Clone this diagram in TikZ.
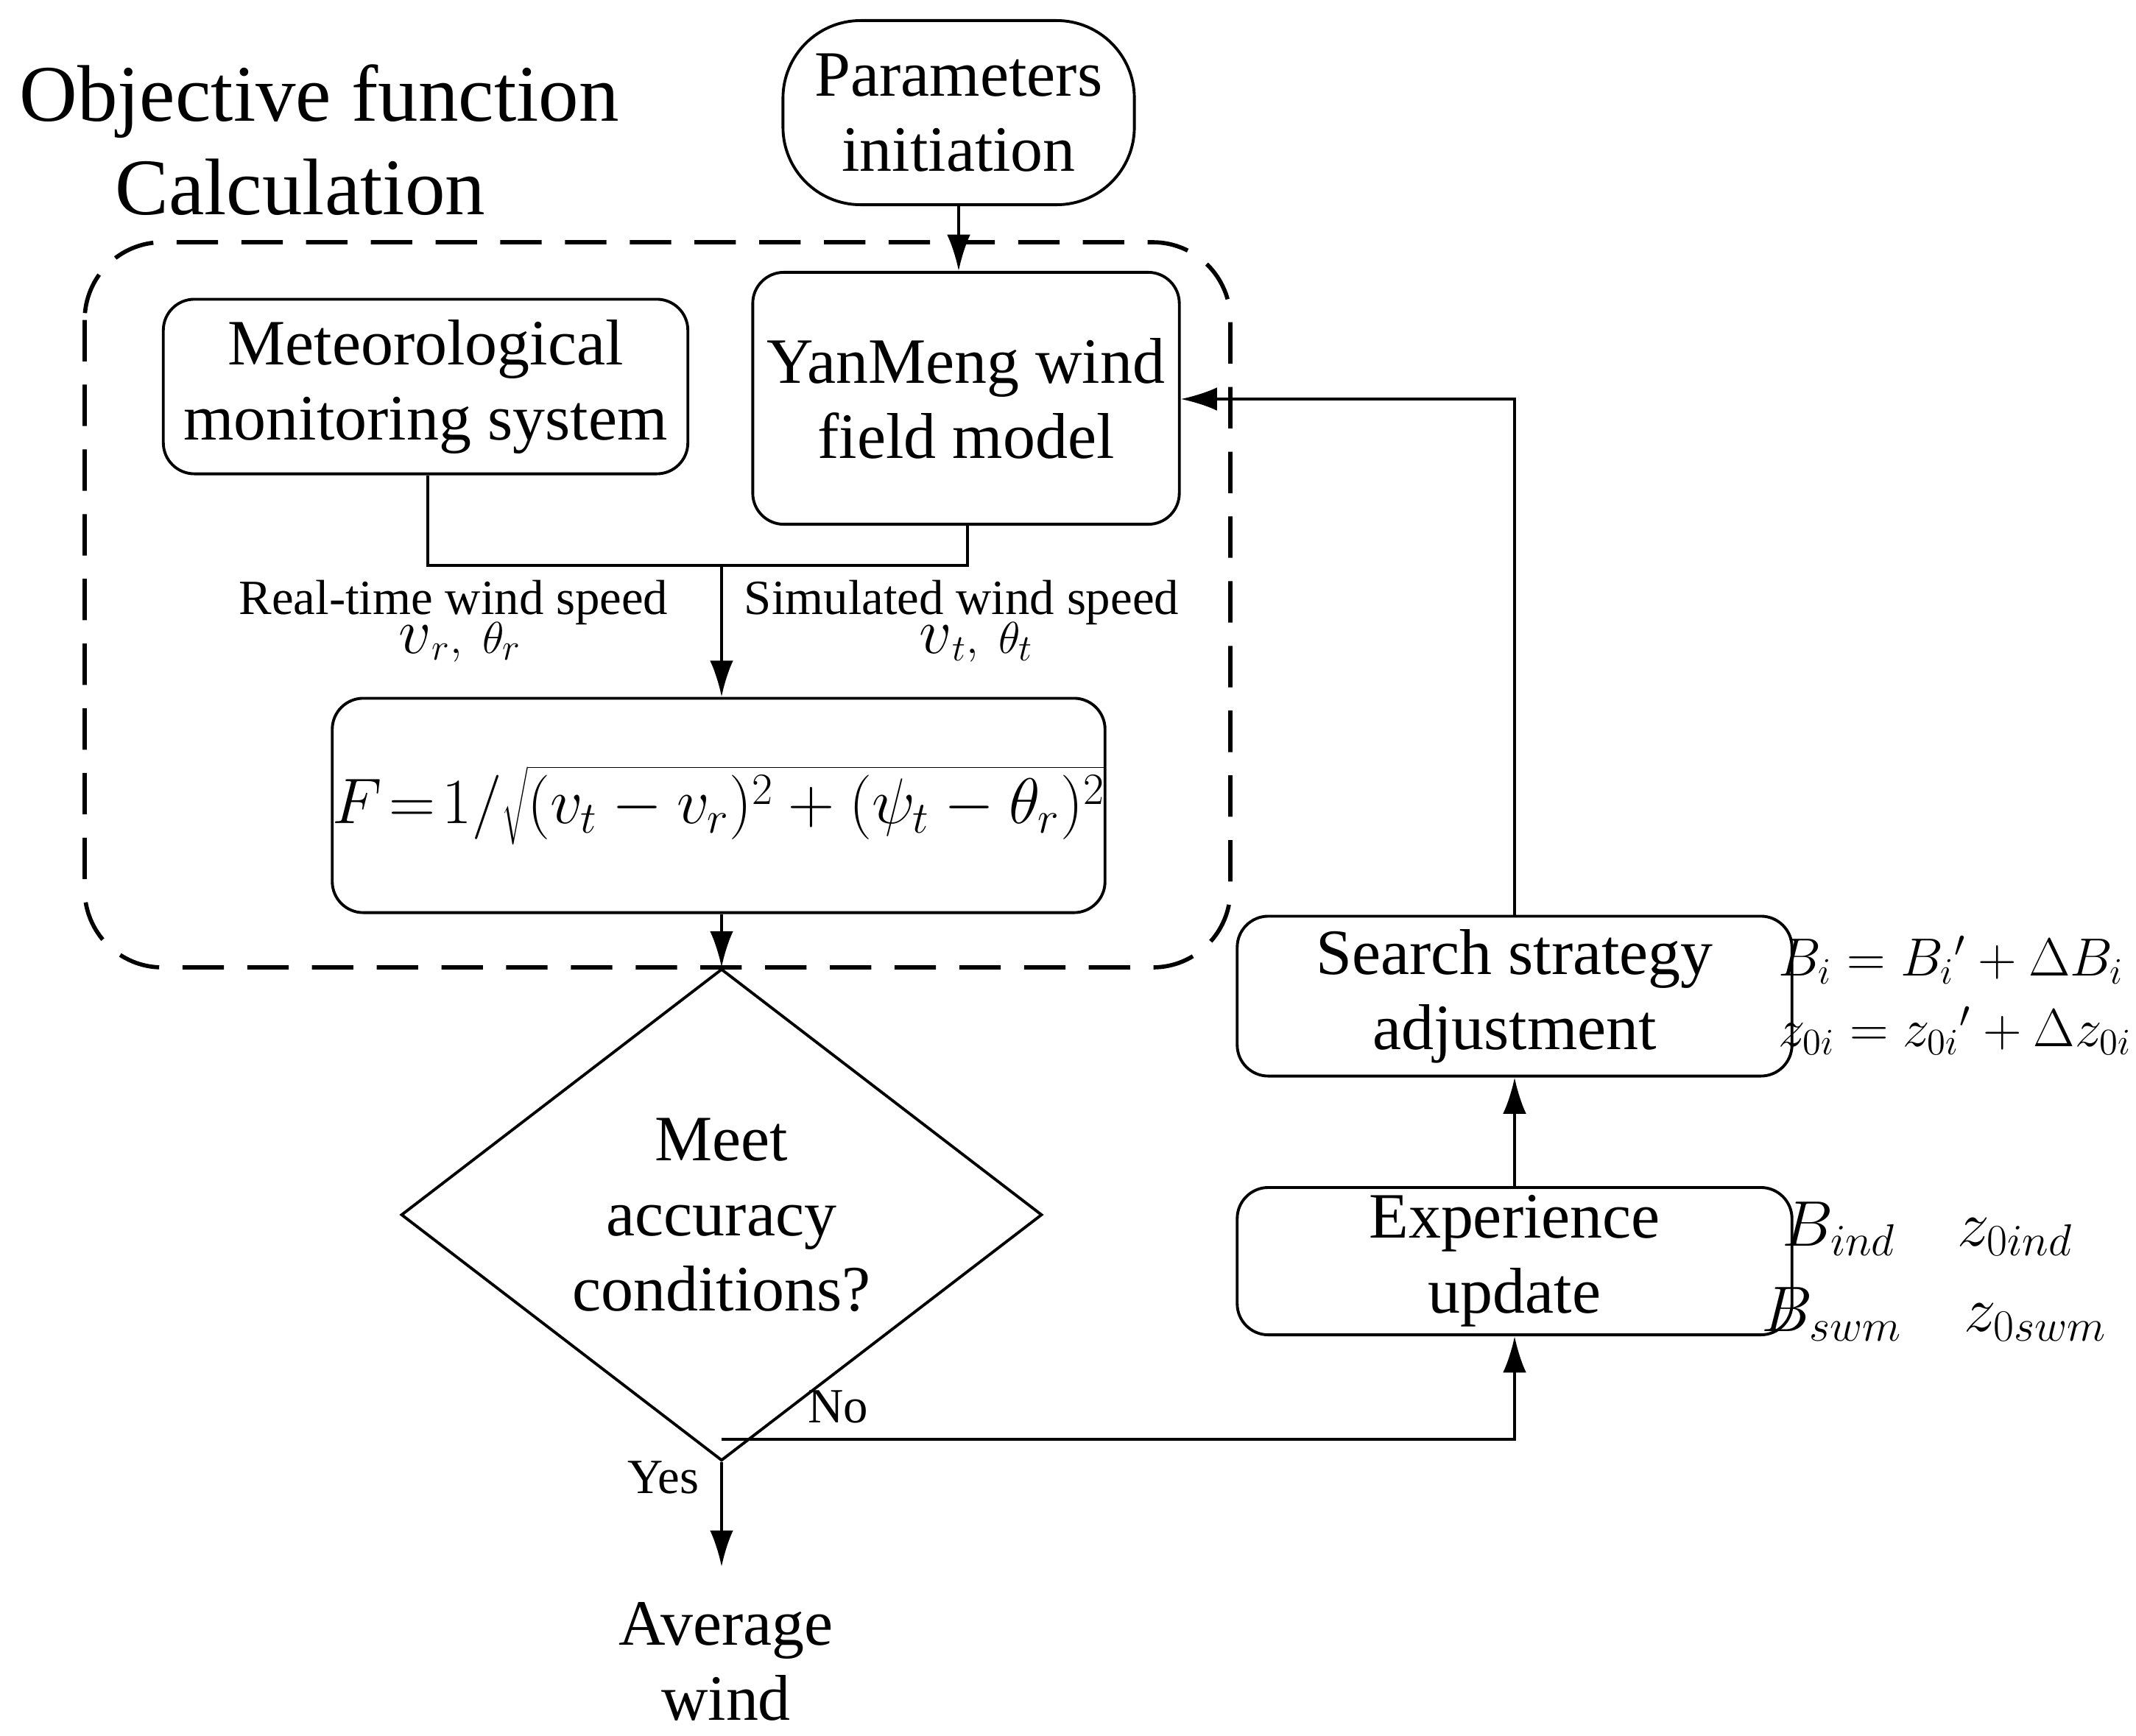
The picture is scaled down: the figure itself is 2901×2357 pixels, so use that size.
\documentclass[tikz,border=0pt]{standalone}
\usepackage{fontspec}
\setmainfont{Liberation Serif}
\usetikzlibrary{shapes.geometric,arrows.meta}
\newcommand{\bigv}{{\fontsize{32}{32}\selectfont$v$}}
\begin{document}
\begin{tikzpicture}[x=0.01cm,y=-0.01cm,
  box/.style={draw,line width=1.1pt,rounded corners=12pt,align=center,font=\fontsize{25}{29}\selectfont,inner sep=0pt},
  lab/.style={align=center,font=\fontsize{19}{22}\selectfont},
  eq/.style={font=\fontsize{20}{24}\selectfont},
  line/.style={line width=1.1pt},
  arr/.style={line width=1.1pt,-{Latex[length=14pt,width=9pt]}}]
\useasboundingbox (0,0) rectangle (2901,2357);
\node[box,rounded corners=30pt,minimum width=4.77cm,minimum height=2.5cm] (par) at (1302,153) {Parameters\\initiation};
\node[align=left,anchor=west,font=\fontsize{31}{36}\selectfont] (title) at (14,190) {Objective function\\\hspace{1.3cm}Calculation};
\draw[line width=1.6pt,dash pattern=on 16pt off 9pt,rounded corners=30pt] (115,329) rectangle (1671,1314);
\node[box,minimum width=7.12cm,minimum height=2.37cm] (met) at (578,525) {Meteorological\\monitoring system};
\node[box,minimum width=5.79cm,minimum height=3.42cm] (yan) at (1312,541) {YanMeng wind\\field model};
\node[box,minimum width=7.56cm,minimum height=2.91cm] (F) at (976,1094) {$F\!=\!1/\sqrt{(v_t-v_r)^2+(\psi_t-\theta_r)^2}$};
\node[draw,line width=1.1pt,shape=diamond,minimum width=8.7cm,minimum height=5cm,inner sep=0pt,align=center,font=\fontsize{25}{29}\selectfont] (dia) at (980,1650) {Meet\\accuracy\\conditions?};
\node[align=center,font=\fontsize{25}{29}\selectfont] (avg) at (986,2257) {Average\\wind};
\node[box,minimum width=7.53cm,minimum height=2.17cm] (srch) at (2057,1353) {Search strategy\\adjustment};
\node[box,minimum width=7.53cm,minimum height=2cm] (exp) at (2057,1713) {Experience\\update};
\node[lab] (rl) at (616,818) {Real-time wind speed};
\node[lab] (rv) at (625,872) {\bigv$_r,\ \theta_r$};
\node[lab] (sl) at (1306,818) {Simulated wind speed};
\node[lab] (sv) at (1326,872) {\bigv$_t,\ \theta_t$};
\node[lab] (no) at (1138,1911) {No};
\node[lab] (yes) at (901,2007) {Yes};
\node[eq] (e1) at (2650,1304) {$B_i = B_i{}' + \Delta B_i$};
\node[eq] (e2) at (2655,1400) {$z_{0i} = z_{0i}{}' + \Delta z_{0i}$};
\node[eq,font=\fontsize{24}{28}\selectfont] (e3) at (2618,1669) {$B_{ind}\quad z_{0ind}$};
\node[eq,font=\fontsize{24}{28}\selectfont] (e4) at (2627,1785) {$B_{swm}\quad z_{0swm}$};
\coordinate (j1) at (980,768);
\coordinate (j2) at (980,1955);
\coordinate (j3) at (980,2128);
\draw[arr] (par.south) -- (par.south |- yan.north);
\draw[line] (met.south -| 581,0) -- (581,768) -- (1314,768) -- (yan.south -| 1314,0);
\draw[arr] (j1) -- (F.north -| j1);
\draw[arr] (F.south -| dia.north) -- (dia.north);
\draw[arr] (dia.south) -- (j3);
\draw[arr] (j2) -- (2057,1955) -- (exp.south);
\draw[arr] (exp.north) -- (srch.south);
\draw[arr] (srch.north) -- (2057,542) -- (yan.east |- 0,542);
\end{tikzpicture}
\end{document}
